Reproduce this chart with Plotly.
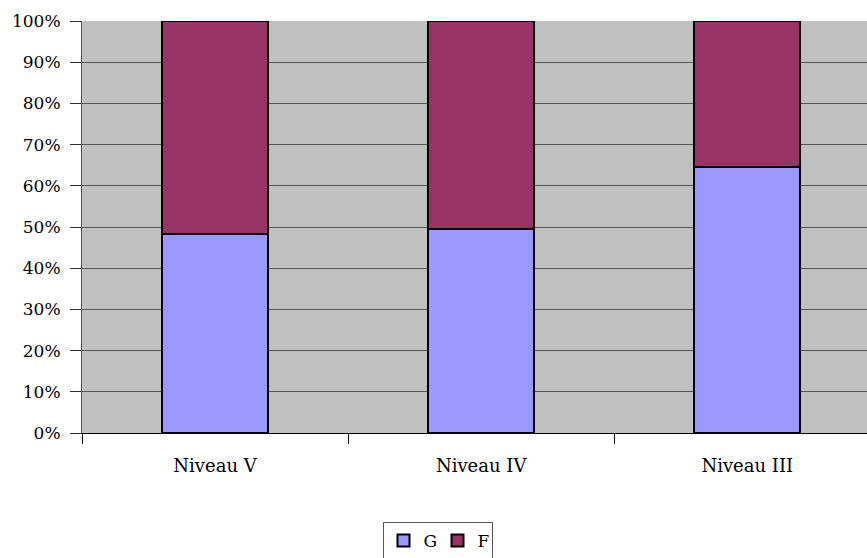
import plotly.graph_objects as go

categories = ["Niveau V", "Niveau IV", "Niveau III"]
g_values = [0.482, 0.496, 0.645]
f_values = [0.518, 0.504, 0.355]
y_ticks = [0, 0.1, 0.2, 0.3, 0.4, 0.5, 0.6, 0.7, 0.8, 0.9, 1.0]
y_tick_labels = ["0%", "10%", "20%", "30%", "40%", "50%", "60%", "70%", "80%", "90%", "100%"]

FONT = "DejaVu Serif"

fig = go.Figure()
fig.add_trace(go.Bar(x=categories, y=g_values, name="G", width=0.4,
                     marker=dict(color="#9999FF", line=dict(color="black", width=2))))
fig.add_trace(go.Bar(x=categories, y=f_values, name="F", width=0.4,
                     marker=dict(color="#993366", line=dict(color="black", width=2))))

fig.update_layout(
    width=867, height=558,
    barmode="stack",
    margin=dict(l=82, r=0, t=21, b=125),
    paper_bgcolor="white",
    plot_bgcolor="#C0C0C0",
    font=dict(family=FONT, size=17, color="black"),
    showlegend=True,
    legend=dict(orientation="h", x=437.5 / 867, xref="container", xanchor="center",
                y=(558 - 522) / 558, yref="container", yanchor="top",
                bordercolor="#555555", borderwidth=1, bgcolor="white",
                font=dict(family=FONT, size=17), traceorder="normal",
                itemwidth=30, entrywidth=9, entrywidthmode="pixels"),
    xaxis=dict(type="category", range=[-0.5, 2.45], showgrid=False,
               showline=True, linecolor="black", linewidth=1,
               ticks="outside", tickson="boundaries", ticklen=10, tickcolor="black",
               ticklabelstandoff=16, tickfont=dict(size=18), fixedrange=True),
    yaxis=dict(range=[0, 1], tickvals=y_ticks, ticktext=y_tick_labels,
               showgrid=True, gridcolor="#555555", gridwidth=1,
               showline=True, linecolor="#555555", linewidth=1,
               ticks="outside", ticklen=11, tickcolor="#333333",
               ticklabelstandoff=6, zeroline=False, fixedrange=True),
)

fig.write_html("out.html", config={"displayModeBar": False},
               post_script="document.body.style.margin='0';")
